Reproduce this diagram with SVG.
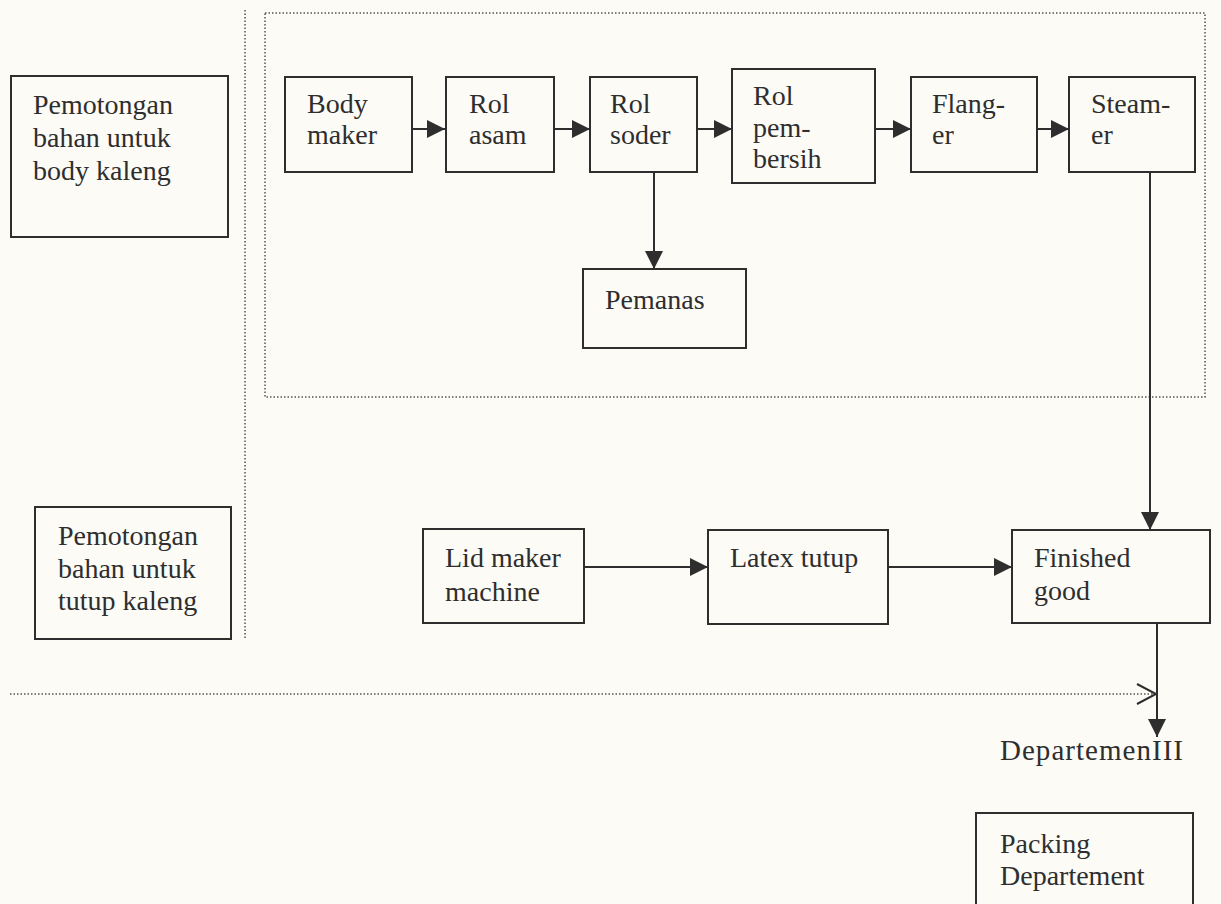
<svg xmlns="http://www.w3.org/2000/svg" width="1221" height="904" viewBox="0 0 1221 904">
<style>
.box{fill:none;stroke:#2e2e2e;stroke-width:2}
.t{font-family:"Liberation Serif","Times New Roman",serif;font-size:28px;fill:#2e2e2e}
.ln{fill:none;stroke:#2e2e2e;stroke-width:2}
.dot{fill:none;stroke:#555;stroke-width:1.5;stroke-dasharray:1.5 2}
</style>
<defs>
<marker id="ahb" viewBox="0 0 18 18" refX="18" refY="9" markerWidth="18" markerHeight="18" markerUnits="userSpaceOnUse" orient="auto">
<path d="M0,0 L18,9 L0,18 z" fill="#2e2e2e"/>
</marker>
</defs>
<rect width="1221" height="904" fill="#fcfbf6"/>
<g id="frames">
<line class="dot" x1="245" y1="10" x2="245" y2="640"/>
<rect class="dot" x="265" y="13" width="940" height="384"/>
<line class="dot" x1="10" y1="694" x2="1156" y2="694"/>
</g>
<g id="connectors">
<line class="ln" x1="412" y1="129" x2="445" y2="129" marker-end="url(#ahb)"/>
<line class="ln" x1="554" y1="129" x2="590" y2="129" marker-end="url(#ahb)"/>
<line class="ln" x1="697" y1="129" x2="732" y2="129" marker-end="url(#ahb)"/>
<line class="ln" x1="875" y1="129" x2="911" y2="129" marker-end="url(#ahb)"/>
<line class="ln" x1="1036" y1="129" x2="1069" y2="129" marker-end="url(#ahb)"/>
<line class="ln" x1="654" y1="173" x2="654" y2="269" marker-end="url(#ahb)"/>
<line class="ln" x1="1150" y1="173" x2="1150" y2="530" marker-end="url(#ahb)"/>
<line class="ln" x1="584" y1="567" x2="708" y2="567" marker-end="url(#ahb)"/>
<line class="ln" x1="888" y1="567" x2="1012" y2="567" marker-end="url(#ahb)"/>
<line class="ln" x1="1157" y1="623" x2="1157" y2="737" marker-end="url(#ahb)"/>
<path class="ln" d="M1137,684 L1156,694 L1137,704" stroke-width="1.5"/>
</g>
<g id="pemotongan-body">
<rect class="box" x="11" y="76" width="217" height="161"/>
<text class="t" x="33" y="114">Pemotongan</text>
<text class="t" x="33" y="147">bahan untuk</text>
<text class="t" x="33" y="180">body kaleng</text>
</g>
<g id="body-maker">
<rect class="box" x="285" y="77" width="127" height="95"/>
<text class="t" x="307" y="113">Body</text>
<text class="t" x="307" y="144">maker</text>
</g>
<g id="rol-asam">
<rect class="box" x="446" y="77" width="108" height="95"/>
<text class="t" x="469" y="113">Rol</text>
<text class="t" x="469" y="144">asam</text>
</g>
<g id="rol-soder">
<rect class="box" x="590" y="77" width="107" height="95"/>
<text class="t" x="610" y="113">Rol</text>
<text class="t" x="610" y="144">soder</text>
</g>
<g id="rol-pembersih">
<rect class="box" x="732" y="69" width="143" height="114"/>
<text class="t" x="753" y="105">Rol</text>
<text class="t" x="753" y="137">pem-</text>
<text class="t" x="753" y="168">bersih</text>
</g>
<g id="flanger">
<rect class="box" x="911" y="77" width="126" height="95"/>
<text class="t" x="932" y="113">Flang-</text>
<text class="t" x="932" y="144">er</text>
</g>
<g id="steamer">
<rect class="box" x="1069" y="77" width="126" height="95"/>
<text class="t" x="1091" y="113">Steam-</text>
<text class="t" x="1091" y="144">er</text>
</g>
<g id="pemanas">
<rect class="box" x="583" y="269" width="163" height="79"/>
<text class="t" x="605" y="309">Pemanas</text>
</g>
<g id="pemotongan-tutup">
<rect class="box" x="35" y="507" width="196" height="132"/>
<text class="t" x="58" y="545">Pemotongan</text>
<text class="t" x="58" y="578">bahan untuk</text>
<text class="t" x="58" y="610">tutup kaleng</text>
</g>
<g id="lid-maker">
<rect class="box" x="423" y="529" width="161" height="94"/>
<text class="t" x="445" y="567">Lid maker</text>
<text class="t" x="445" y="601">machine</text>
</g>
<g id="latex-tutup">
<rect class="box" x="708" y="530" width="180" height="94"/>
<text class="t" x="730" y="567">Latex tutup</text>
</g>
<g id="finished-good">
<rect class="box" x="1012" y="530" width="198" height="93"/>
<text class="t" x="1034" y="567">Finished</text>
<text class="t" x="1034" y="600">good</text>
</g>
<g id="departemen">
<text class="t" x="1000" y="760" style="font-size:29px" textLength="183" lengthAdjust="spacing">DepartemenIII</text>
</g>
<g id="packing">
<rect class="box" x="976" y="813" width="217" height="100"/>
<text class="t" x="1000" y="853">Packing</text>
<text class="t" x="1000" y="885">Departement</text>
</g>
</svg>
